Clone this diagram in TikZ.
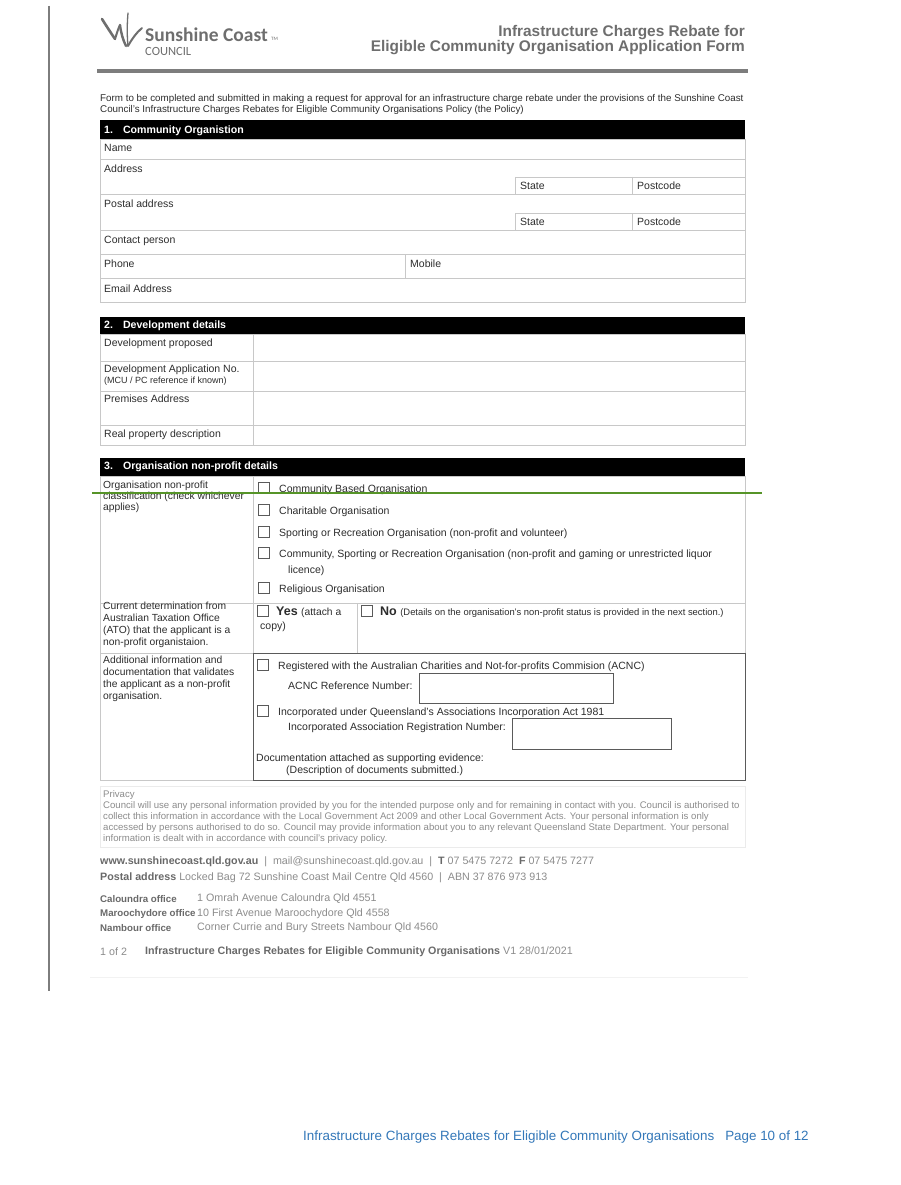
\documentclass[tikz,border=0pt]{standalone}
\usepackage{fontspec}
\setmainfont{Liberation Sans}
\newfontfamily\logofont{Carlito}
\definecolor{titlegray}{RGB}{110,110,110}
\definecolor{rulegray}{RGB}{125,125,125}
\definecolor{cellgray}{RGB}{200,200,200}
\definecolor{textdark}{RGB}{45,45,45}
\definecolor{footgray}{RGB}{140,140,140}
\definecolor{footbold}{RGB}{105,105,105}
\definecolor{greenline}{RGB}{86,148,40}
\definecolor{footblue}{RGB}{52,120,185}
\definecolor{boxdark}{RGB}{90,90,90}
\begin{document}
\begin{tikzpicture}[x=1pt,y=-1pt,
  txt/.style={anchor=west,inner sep=0pt,font=\fontsize{10.5}{11.6}\selectfont,text=textdark,align=left},
  small/.style={anchor=west,inner sep=0pt,font=\fontsize{9}{10}\selectfont,text=textdark},
  intro/.style={anchor=west,inner sep=0pt,font=\fontsize{9.8}{11}\selectfont,text=textdark,align=left},
  hdrtxt/.style={anchor=west,inner sep=0pt,font=\fontsize{10.6}{12}\selectfont\bfseries,text=white},
  hdrbar/.style={fill=black},
  cell/.style={draw=cellgray,line width=0.8pt},
  cbox/.style={draw=boxdark,line width=0.6pt,minimum size=11pt,inner sep=0pt,anchor=center},
  entry/.style={draw=boxdark,line width=0.8pt},
  foot/.style={anchor=west,inner sep=0pt,font=\fontsize{10.7}{12}\selectfont,text=footgray},
  footb/.style={anchor=west,inner sep=0pt,font=\fontsize{9.7}{11}\selectfont\bfseries,text=footbold},
  priv/.style={anchor=west,inner sep=0pt,font=\fontsize{9.6}{11}\selectfont,text=footgray,align=left}]
\useasboundingbox (0,0) rectangle (900,1185);
\fill[white] (0,0) rectangle (900,1185);

% left margin line
\draw[rulegray,line width=1.2pt] (49,6) -- (49,991);

% logo
\begin{scope}[draw=titlegray,line cap=round]
  \draw[line width=2.6pt] (102,19) .. controls (107,27) and (111,33) .. (115,39);
  \draw[line width=2.0pt] (115,39) .. controls (117,33) and (118,29) .. (120,25);
  \draw[line width=2.4pt] (120,25) .. controls (121,33) and (123,40) .. (126,46);
  \draw[line width=1.3pt] (128,13) .. controls (127,24) and (127,36) .. (128,46);
  \draw[line width=2.0pt] (128,46) .. controls (132,39) and (136,33) .. (142,28);
\end{scope}
\node[anchor=west,inner sep=0pt,font=\logofont\fontsize{19.5}{20}\selectfont\bfseries,text=titlegray] (logoA) at (145,34.5) {Sunshine Coast};
\node[anchor=west,inner sep=0pt,font=\logofont\fontsize{5}{5}\selectfont,text=titlegray] (logoTM) at (271,39) {TM};
\node[anchor=west,inner sep=0pt,font=\logofont\fontsize{12.5}{13}\selectfont,text=titlegray] (logoB) at (145,51.5) {COUNCIL};

% title
\node[anchor=east,inner sep=0pt,font=\fontsize{15.4}{17}\selectfont\bfseries,text=titlegray] (title1) at (745,33) {Infrastructure Charges Rebate for};
\node[anchor=east,inner sep=0pt,font=\fontsize{15.4}{17}\selectfont\bfseries,text=titlegray] (title2) at (745,48) {Eligible Community Organisation Application Form};
\fill[rulegray] (97,69.5) rectangle (748,73);

% intro
\node[intro] (intro) at (100,104.5) {Form to be completed and submitted in making a request for approval for an infrastructure charge rebate under the provisions of the Sunshine Coast\\Council's Infrastructure Charges Rebates for Eligible Community Organisations Policy (the Policy)};

% ---------- Section 1
\fill[hdrbar] (100,120.5) rectangle (745,139);
\node[hdrtxt] (h1) at (104,130.5) {1.\hspace{10pt}Community Organistion};
\draw[cell] (100,139) rectangle (745,302);
\foreach \yy in {159,194,230,254,278} \draw[cell] (100,\yy) -- (745,\yy);
\draw[cell] (515,177) -- (745,177) (515,177) -- (515,194) (632,177) -- (632,194);
\draw[cell] (515,213) -- (745,213) (515,213) -- (515,230) (632,213) -- (632,230);
\draw[cell] (405,254) -- (405,278);
\node[txt] (n1) at (104,148) {Name};
\node[txt] (n2) at (104,169) {Address};
\node[txt] (n3) at (520,186) {State};
\node[txt] (n4) at (637,186) {Postcode};
\node[txt] (n5) at (104,204) {Postal address};
\node[txt] (n6) at (520,222) {State};
\node[txt] (n7) at (637,222) {Postcode};
\node[txt] (n8) at (104,241) {Contact person};
\node[txt] (n9) at (104,264) {Phone};
\node[txt] (n10) at (410,264) {Mobile};
\node[txt] (n11) at (104,289) {Email Address};

% ---------- Section 2
\fill[hdrbar] (100,317) rectangle (745,334);
\node[hdrtxt] (h2) at (104,326) {2.\hspace{10pt}Development details};
\draw[cell] (100,334) rectangle (745,445);
\foreach \yy in {361,391,425} \draw[cell] (100,\yy) -- (745,\yy);
\draw[cell] (253,334) -- (253,445);
\node[txt] (d1) at (104,344) {Development proposed};
\node[txt] (d2) at (104,370) {Development Application No.};
\node[small] (d3) at (104,381) {(MCU / PC reference if known)};
\node[txt] (d4) at (104,399) {Premises Address};
\node[txt] (d5) at (104,435) {Real property description};

% ---------- Section 3
\fill[hdrbar] (100,458) rectangle (745,476);
\node[hdrtxt] (h3) at (104,467) {3.\hspace{10pt}Organisation non-profit details};
\draw[cell] (100,476) rectangle (745,780);
\foreach \yy in {603,653} \draw[cell] (100,\yy) -- (253,\yy);
\draw[cell] (253,603) -- (745,603);
\draw[cell] (253,476) -- (253,653);
\draw[cell] (357,603) -- (357,653);
\draw[entry] (253,653) rectangle (745,780);

\node[txt,anchor=north west,font=\fontsize{10.3}{11}\selectfont] (c0) at (103,481) {Organisation non-profit\\classification (check whichever\\applies)};
\node[cbox] (cb1) at (264,488) {};
\node[txt] (o1) at (279,490) {Community Based Organisation};
\node[cbox] (cb2) at (264,510) {};
\node[txt] (o2) at (279,512) {Charitable Organisation};
\node[cbox] (cb3) at (264,532) {};
\node[txt] (o3) at (279,534) {Sporting or Recreation Organisation (non-profit and volunteer)};
\node[cbox] (cb4) at (264,553) {};
\node[txt] (o4) at (279,555) {Community, Sporting or Recreation Organisation (non-profit and gaming or unrestricted liquor};
\node[txt] (o4b) at (288,571) {licence)};
\node[cbox] (cb5) at (264,588) {};
\node[txt] (o5) at (279,590) {Religious Organisation};

\node[txt,anchor=north west,font=\fontsize{10.3}{12}\selectfont] (a0) at (103,602) {Current determination from\\Australian Taxation Office\\(ATO) that the applicant is a\\non-profit organistaion.};
\node[cbox] (cbY) at (263,611) {};
\node[anchor=west,inner sep=0pt,text=textdark] (yes) at (276,612) {\fontsize{12.5}{13}\selectfont\bfseries Yes \fontsize{10.3}{11}\mdseries(attach a};
\node[txt] (copy) at (260,627) {copy)};
\node[cbox] (cbN) at (367,611) {};
\node[anchor=west,inner sep=0pt,text=textdark] (no) at (380,612) {\fontsize{12.5}{13}\selectfont\bfseries No \fontsize{9.4}{10}\mdseries(Details on the organisation's non-profit status is provided in the next section.)};

\node[txt,anchor=north west,font=\fontsize{10.3}{12}\selectfont] (b0) at (103,656) {Additional information and\\documentation that validates\\the applicant as a non-profit\\organisation.};
\node[cbox] (cbR) at (263,665) {};
\node[txt] (r1) at (278,667) {Registered with the Australian Charities and Not-for-profits Commision (ACNC)};
\node[txt] (r2) at (288,686) {ACNC Reference Number:};
\node[entry,anchor=north west,minimum width=194pt,minimum height=30pt,inner sep=0pt] (acnc) at (419,673) {};
\node[cbox] (cbI) at (263,711) {};
\node[txt] (i1) at (278,713) {Incorporated under Queensland's Associations Incorporation Act 1981};
\node[txt] (i2) at (288,728) {Incorporated Association Registration Number:};
\node[entry,anchor=north west,minimum width=159pt,minimum height=31pt,inner sep=0pt] (reg) at (512,718) {};
\node[txt] (doc1) at (256,759) {Documentation attached as supporting evidence:};
\node[txt] (doc2) at (286,771) {(Description of documents submitted.)};

% green line
\draw[greenline,line width=1.5pt] (92,493) -- (762,493);

% ---------- Privacy
\draw[draw=black!8,line width=0.8pt] (100,786) rectangle (745,847);
\node[priv,anchor=north west] (priv) at (103,790) {Privacy\\Council will use any personal information provided by you for the intended purpose only and for remaining in contact with you. Council is authorised to\\collect this information in accordance with the Local Government Act 2009 and other Local Government Acts. Your personal information is only\\accessed by persons authorised to do so. Council may provide information about you to any relevant Queensland State Department. Your personal\\information is dealt with in accordance with council's privacy policy.};

% ---------- Footer
\node[foot] (f1) at (100,862) {\textcolor{footbold}{\bfseries www.sunshinecoast.qld.gov.au}\ \ |\ \ mail@sunshinecoast.qld.gov.au\ \ |\ \ \textcolor{footbold}{\bfseries T} 07 5475 7272\ \ \textcolor{footbold}{\bfseries F} 07 5475 7277};
\node[foot] (f2) at (100,878) {\textcolor{footbold}{\bfseries Postal address} Locked Bag 72 Sunshine Coast Mail Centre Qld 4560\ \ |\ \ ABN 37 876 973 913};
\node[footb] (o1l) at (100,899) {Caloundra office};
\node[foot] (o1v) at (197,899) {1 Omrah Avenue Caloundra Qld 4551};
\node[footb] (o2l) at (100,913.5) {Maroochydore office};
\node[foot] (o2v) at (197,913.5) {10 First Avenue Maroochydore Qld 4558};
\node[footb] (o3l) at (100,928) {Nambour office};
\node[foot] (o3v) at (197,928) {Corner Currie and Bury Streets Nambour Qld 4560};
\node[foot] (pg) at (100,952) {1 of 2};
\node[foot] (ver) at (145,952) {\textcolor{footbold}{\bfseries Infrastructure Charges Rebates for Eligible Community Organisations} V1 28/01/2021};
\draw[black!5,line width=0.6pt] (90,977) -- (748,977);

% bottom page footer
\node[anchor=west,inner sep=0pt,font=\fontsize{13.4}{15}\selectfont,text=footblue] (bottom) at (303,1137) {Infrastructure Charges Rebates for Eligible Community Organisations\hspace{11pt}Page 10 of 12};
\end{tikzpicture}
\end{document}
